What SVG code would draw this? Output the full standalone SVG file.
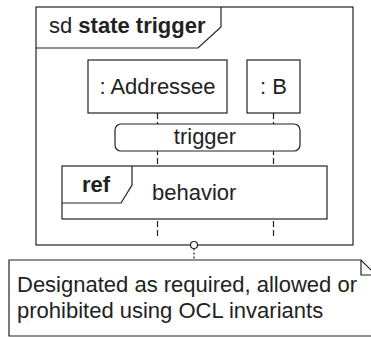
<svg xmlns="http://www.w3.org/2000/svg" width="371" height="337" viewBox="0 0 371 337">
<style>
.ln{fill:none;stroke:#222;stroke-width:1.2}
.bx{fill:#fff;stroke:#222;stroke-width:1.2}
.t{font-family:"Liberation Sans",Arial,sans-serif;font-size:22px;fill:#222}
.b{font-weight:bold}
.ll{fill:none;stroke:#222;stroke-width:1.2;stroke-dasharray:6,3}
</style>
<rect width="371" height="337" fill="#fff"/>
<g id="frame">
<rect class="bx" x="36" y="7" width="317" height="238"/>
<path class="ln" d="M36,48 L198,48 L221,27 L221,7"/>
<text class="t" x="49" y="33">sd <tspan class="b">state trigger</tspan></text>
</g>
<g id="connectors">
<line class="ll" x1="157.5" y1="113" x2="157.5" y2="238"/>
<line class="ll" x1="273.5" y1="113" x2="273.5" y2="238"/>
<line class="ln" x1="194" y1="248.5" x2="194" y2="260" stroke-dasharray="2,2"/>
<circle class="bx" cx="194" cy="245" r="3.5"/>
</g>
<g id="addressee">
<rect class="bx" x="88" y="60" width="139" height="53"/>
<text class="t" x="157.5" y="94" text-anchor="middle">: Addressee</text>
</g>
<g id="b">
<rect class="bx" x="247" y="60" width="53" height="53"/>
<text class="t" x="273.5" y="94" text-anchor="middle">: B</text>
</g>
<g id="trigger">
<rect class="bx" x="115" y="124" width="185" height="27" rx="6"/>
<text class="t" x="205" y="144" text-anchor="middle">trigger</text>
</g>
<g id="ref">
<rect class="bx" x="62" y="166" width="265" height="53"/>
<path class="ln" d="M62,203 L121,203 L132,185 L132,166"/>
<text class="t b" x="82" y="192">ref</text>
<text class="t" x="152" y="200">behavior</text>
</g>
<g id="note">
<path class="bx" d="M9,260 L361,260 L376,275 L376,336 L9,336 Z"/>
<path class="ln" d="M361,260 L361,275 L376,275"/>
<text class="t" x="17" y="292">Designated as required, allowed or</text>
<text class="t" x="17" y="318">prohibited using OCL invariants</text>
</g>
</svg>
